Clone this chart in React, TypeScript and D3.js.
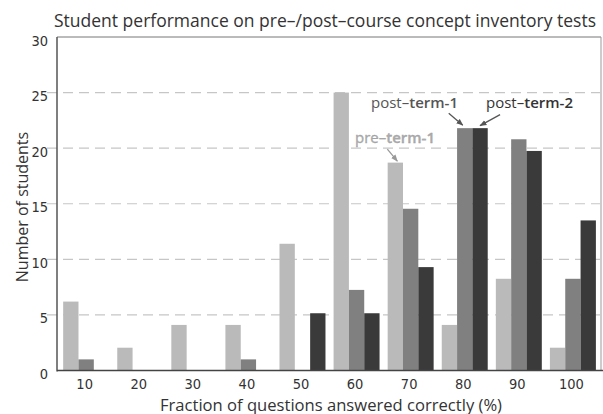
import React from "react";
import * as d3 from "d3";

const categories = ["10", "20", "30", "40", "50", "60", "70", "80", "90", "100"];
const seriesNames = ["pre-term-1", "post-term-1", "post-term-2"];
const preTerm1 = [6.2, 2.05, 4.1, 4.1, 11.4, 25, 18.7, 4.1, 8.25, 2.05];
const postTerm1 = [1.0, 0, 0, 1.0, 0, 7.25, 14.55, 21.8, 20.8, 8.25];
const postTerm2 = [0, 0, 0, 0, 5.15, 5.15, 9.3, 21.8, 19.75, 13.5];
const yTicks = [0, 5, 10, 15, 20, 25, 30];
const gridTicks = [5, 10, 15, 20, 25];

const colors = ["#bababa", "#808080", "#3a3a3a"];
const seriesValues = [preTerm1, postTerm1, postTerm2];

const W = 603, H = 414;
const L = 57, R = 600, T = 37, B = 370.5;

export default function App() {
  const x0 = d3.scaleBand<string>().domain(categories).range([L, R]).paddingInner(0.15).paddingOuter(0.095).align(0.6);
  const x1 = d3.scaleBand<string>().domain(seriesNames).range([0, x0.bandwidth()]);
  const y = d3.scaleLinear().domain([0, 30]).range([B, T]);

  const barX = (ci: number, si: number) => (x0(categories[ci]) as number) + (x1(seriesNames[si]) as number);
  const bw = x1.bandwidth();

  const preTip = { x: barX(6, 0) + bw / 2 + 2, y: y(preTerm1[6]) - 1.5 };
  const p1Tip = { x: barX(7, 1) + bw / 2 - 2, y: y(postTerm1[7]) - 3 };
  const p2Tip = { x: barX(7, 2) + bw / 2, y: y(postTerm2[7]) - 2.5 };

  const font = "'Open Sans', 'Noto Sans', sans-serif";
  const narrow = "'Liberation Sans Narrow', 'DejaVu Sans Condensed', sans-serif";

  return (
    <svg width={W} height={H} style={{ position: "absolute", left: 0, top: 0 }} xmlns="http://www.w3.org/2000/svg">
      <defs>
        <marker id="ah" viewBox="0 0 10 10" refX="9" refY="5" markerWidth="7" markerHeight="7" orient="auto-start-reverse" markerUnits="userSpaceOnUse">
          <path d="M0,1 L10,5 L0,9 z" fill="#555" />
        </marker>
        <marker id="ahl" viewBox="0 0 10 10" refX="9" refY="5" markerWidth="7" markerHeight="7" orient="auto-start-reverse" markerUnits="userSpaceOnUse">
          <path d="M0,1 L10,5 L0,9 z" fill="#999" />
        </marker>
      </defs>
      <rect width={W} height={H} fill="#fff" />
      {gridTicks.map((t) => (
        <line key={t} x1={47} x2={R} y1={y(t)} y2={y(t)} stroke="#c6c6c6" strokeWidth={1.2} strokeDasharray="10,6" />
      ))}
      {seriesValues.map((vals, si) =>
        vals.map((v, ci) =>
          v > 0 ? (
            <rect key={`${si}-${ci}`} x={barX(ci, si)} y={y(v)} width={bw} height={B - y(v)} fill={colors[si]} />
          ) : null
        )
      )}
      <line x1={L} x2={601} y1={T} y2={T} stroke="#777" strokeWidth={1} />
      <line x1={601} x2={601} y1={T} y2={B} stroke="#999" strokeWidth={1} />
      <line x1={L} x2={L} y1={T} y2={B + 1} stroke="#555" strokeWidth={1.5} />
      <line x1={L} x2={603} y1={B} y2={B} stroke="#444" strokeWidth={1.6} />
      {yTicks.map((t) => (
        <text key={t} x={48} y={y(t) + 8.5} textAnchor="end" fontFamily={narrow} fontSize={14.5} fill="#333">{t}</text>
      ))}
      {categories.map((c) => (
        <text key={c} x={(x0(c) as number) + x0.bandwidth() / 2 - 1.5} y={389} textAnchor="middle" fontFamily={narrow} fontSize={14.5} fill="#333">{c}</text>
      ))}
      <text x={331} y={410.5} textAnchor="middle" fontFamily={font} fontSize={16.6} fill="#333">Fraction of questions answered correctly (%)</text>
      <text transform="translate(28,207) rotate(-90)" textAnchor="middle" fontFamily={font} fontSize={16} fill="#333">Number of students</text>
      <text x={325} y={27} textAnchor="middle" fontFamily={font} fontSize={17.5} fill="#333">Student performance on pre–/post–course concept inventory tests</text>
      <line x1={preTip.x - 10} y1={preTip.y - 12} x2={preTip.x} y2={preTip.y} stroke="#999" strokeWidth={1.3} markerEnd="url(#ahl)" />
      <line x1={p1Tip.x - 14} y1={p1Tip.y - 12} x2={p1Tip.x} y2={p1Tip.y} stroke="#555" strokeWidth={1.3} markerEnd="url(#ah)" />
      <line x1={p2Tip.x + 20} y1={p2Tip.y - 11} x2={p2Tip.x} y2={p2Tip.y} stroke="#555" strokeWidth={1.3} markerEnd="url(#ah)" />
      <text x={355} y={143} fontFamily={font} fontSize={15} fill="#adadad" stroke="#9a9a9a" strokeWidth={0.3}>
        pre–<tspan fontWeight={600}>term-1</tspan>
      </text>
      <text x={371} y={108} fontFamily={font} fontSize={15} fill="#555">
        post–<tspan fontWeight={600}>term-1</tspan>
      </text>
      <text x={486} y={108} fontFamily={font} fontSize={15} fill="#333">
        post–<tspan fontWeight={600}>term-2</tspan>
      </text>
    </svg>
  );
}
